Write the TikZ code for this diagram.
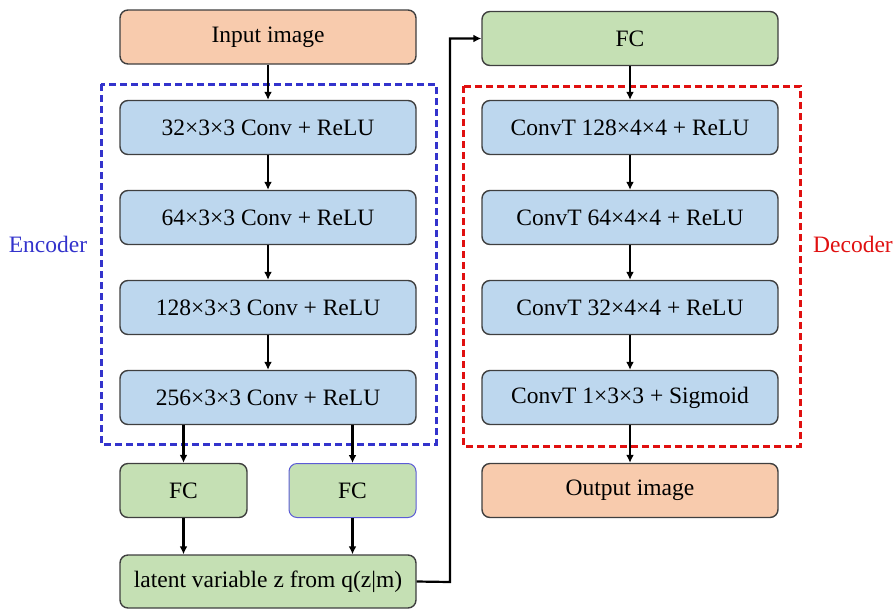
\documentclass[tikz,border=0pt]{standalone}
\usepackage{fontspec}
\setmainfont{Liberation Serif}
\usetikzlibrary{arrows.meta,positioning}
\definecolor{ImgOrange}{HTML}{F8CBAD}
\definecolor{LayerBlue}{HTML}{BDD7EE}
\definecolor{FcGreen}{HTML}{C5E0B4}
\definecolor{EdgeGray}{HTML}{3F3F3F}
\definecolor{EncBlue}{HTML}{3333CC}
\definecolor{DecRed}{HTML}{E01010}

\begin{document}
\begin{tikzpicture}[x=1pt,y=-1pt,
  block/.style={draw=EdgeGray,line width=1.4pt,rounded corners=8pt,
    minimum width=296pt,minimum height=54pt,inner sep=0pt,font=\fontsize{23.5}{27}\selectfont},
  imgbox/.style={block,fill=ImgOrange},
  layer/.style={block,fill=LayerBlue},
  fcbox/.style={block,fill=FcGreen},
  flow/.style={line width=2.2pt,-{Latex[length=8pt,width=8pt]}},
  group/.style={line width=3pt,dash pattern=on 7pt off 4pt}]
  \useasboundingbox (0,0) rectangle (896,611);

  % encoder column
  \node[imgbox] (inimg) at (268,37) {Input image};
  \node[layer] (enc1) at (268,127.5) {32×3×3 Conv + ReLU};
  \node[layer] (enc2) at (268,217.5) {64×3×3 Conv + ReLU};
  \node[layer] (enc3) at (268,307.5) {128×3×3 Conv + ReLU};
  \node[layer] (enc4) at (268,397.5) {256×3×3 Conv + ReLU};
  \node[fcbox,minimum width=127pt] (fcmu) at (183.5,490.5) {FC};
  \node[fcbox,minimum width=127pt,draw=EncBlue!80,line width=1pt] (fcsig) at (352.5,490.5) {FC};
  \node[fcbox,minimum height=53pt] (latent) at (268,581.5) {latent variable z from q(z|m)};

  % decoder column
  \node[fcbox] (fcdec) at (630,38.5) {FC};
  \node[layer] (dec1) at (630,127.5) {ConvT 128×4×4 + ReLU};
  \node[layer] (dec2) at (630,217.5) {ConvT 64×4×4 + ReLU};
  \node[layer] (dec3) at (630,307.5) {ConvT 32×4×4 + ReLU};
  \node[layer] (dec4) at (630,397.5) {ConvT 1×3×3 + Sigmoid};
  \node[imgbox] (outimg) at (630,490.5) {Output image};

  % dashed groups
  \draw[group,EncBlue] (101,84) rectangle (436,444);
  \draw[group,DecRed] (463,86) rectangle (800,446);
  \node[text=EncBlue,font=\fontsize{23.5}{27}\selectfont] (enclabel) at (48,244) {Encoder};
  \node[text=DecRed,font=\fontsize{23.5}{27}\selectfont] (declabel) at (853,244) {Decoder};

  \draw[flow] (inimg) -- (enc1);
  \draw[flow] (enc1) -- (enc2);
  \draw[flow] (enc2) -- (enc3);
  \draw[flow] (enc3) -- (enc4);
  \draw[flow] (enc4.south -| fcmu) -- (fcmu);
  \draw[flow] (enc4.south -| fcsig) -- (fcsig);
  \draw[flow] (fcmu) -- (latent.north -| fcmu);
  \draw[flow] (fcsig) -- (latent.north -| fcsig);
  \coordinate (turn) at (450,582);
  \draw[flow] (latent.east) -- (turn) |- (fcdec.west);
  \draw[flow] (fcdec) -- (dec1);
  \draw[flow] (dec1) -- (dec2);
  \draw[flow] (dec2) -- (dec3);
  \draw[flow] (dec3) -- (dec4);
  \draw[flow] (dec4) -- (outimg);
\end{tikzpicture}
\end{document}
